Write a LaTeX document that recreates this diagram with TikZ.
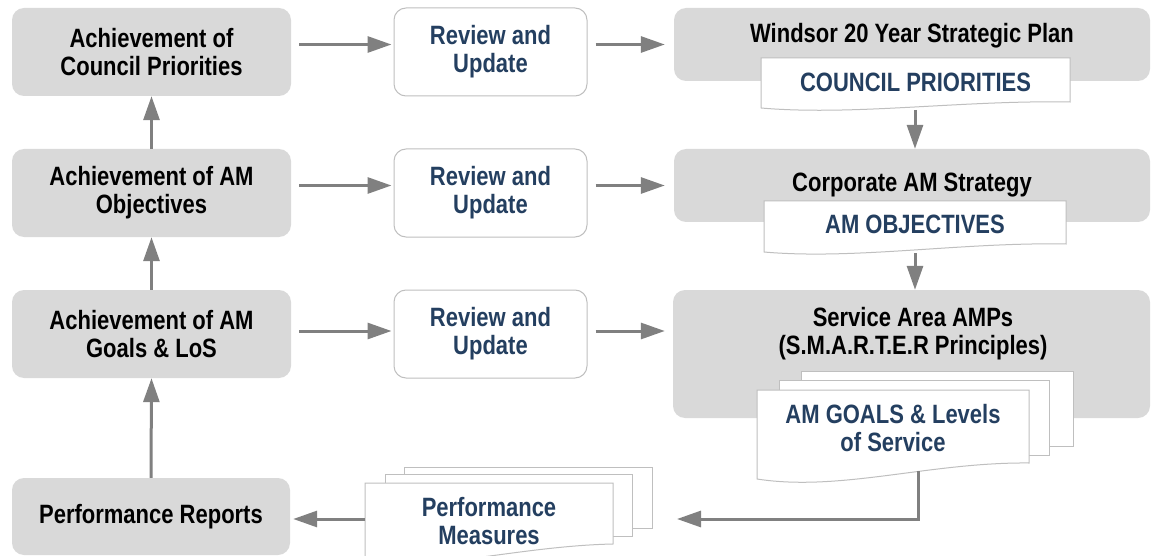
\documentclass[tikz,border=0pt]{standalone}
\usepackage{fontspec}
\setmainfont{Liberation Sans}[FakeStretch=0.83]
\usetikzlibrary{arrows.meta}
\definecolor{boxgray}{HTML}{D9D9D9}
\definecolor{edgegray}{HTML}{BFBFBF}
\definecolor{arrgray}{HTML}{808080}
\definecolor{navy}{HTML}{243F60}
\begin{document}
\begin{tikzpicture}[x=1pt,y=-1pt,
  graybox/.style={fill=boxgray, draw=none, rounded corners=12pt, inner sep=0pt},
  revbox/.style={fill=white, draw=edgegray, line width=1pt, rounded corners=12pt, inner sep=0pt,
    minimum width=193pt, minimum height=88pt, text=navy, align=center,
    font=\fontsize{26.5}{28}\selectfont\bfseries},
  blk/.style={font=\fontsize{26.5}{28}\selectfont\bfseries, align=center, text=black},
  blu/.style={font=\fontsize{26.5}{28}\selectfont\bfseries, align=center, text=navy},
  docline/.style={fill=white, draw=edgegray, line width=1pt},
  arr/.style={draw=arrgray, line width=3pt, -{Triangle[length=24pt,width=16pt]}},
]
\useasboundingbox (0,0) rectangle (1151,556);

% left column
\node[graybox, blk, minimum width=279pt, minimum height=88pt] (l1) at (151.5,52) {Achievement of\\Council Priorities};
\node[graybox, blk, minimum width=279pt, minimum height=88pt] (l2) at (151.5,193) {Achievement of AM\\Objectives};
\node[graybox, blk, minimum width=279pt, minimum height=88pt] (l3) at (151.5,334) {Achievement of AM\\Goals \& LoS};
\node[graybox, blk, minimum width=278pt, minimum height=77pt] (pr) at (151,516.5) {Performance Reports};

% review boxes
\node[revbox] (rv1) at (490.5,52) {Review and\\Update};
\node[revbox] (rv2) at (490.5,193) {Review and\\Update};
\node[revbox] (rv3) at (490.5,334) {Review and\\Update};

% right column boxes
\node[graybox, minimum width=476pt, minimum height=73pt] (w1) at (912,44.5) {};
\node[blk] (w1t) at (912,36) {Windsor 20 Year Strategic Plan};
\node[graybox, minimum width=476pt, minimum height=73pt] (c2) at (912,185.5) {};
\node[blk] (c2t) at (912,185) {Corporate AM Strategy};
\node[graybox, minimum width=477pt, minimum height=128pt] (s3) at (911.5,354) {};
\node[blk] (s3t) at (913,334) {Service Area AMPs\\(S.M.A.R.T.E.R Principles)};

% council priorities document
\draw[docline] (761,58) -- (1070,58) -- (1070,102) .. controls (962,100) and (854,116) .. (761,108) -- cycle;
\node[blu] (cpt) at (915.5,82) {COUNCIL PRIORITIES};
\coordinate (cpb) at (915,110);

% AM objectives document
\draw[docline] (764,201) -- (1066,201) -- (1066,244) .. controls (962,242) and (855,260) .. (764,252) -- cycle;
\node[blu] (aot) at (915,224) {AM OBJECTIVES};
\coordinate (aob) at (915,253);

% AM goals stack
\draw[docline] (801,371) rectangle (1073,446);
\draw[docline] (779,380) rectangle (1049,455);
\draw[docline] (757,390) -- (1029,390) -- (1029,463) .. controls (930,462) and (840,492) .. (757,479) -- cycle;
\node[blu] (gt) at (893,428) {AM GOALS \& Levels\\of Service};
\coordinate (gb) at (918,471);
\coordinate (gc) at (918,519);
\coordinate (ge) at (677,519);

% performance measures stack
\draw[docline] (404,467) rectangle (652,528);
\draw[docline] (385,474) rectangle (632,536);
\draw[docline] (365,483) -- (613,483) -- (613,544) .. controls (520,546) and (430,572) .. (365,562) -- cycle;
\node[blu] (pmt) at (489,521) {Performance\\Measures};
\coordinate (pml) at (365,519);

% connectors: left column upward
\draw[arr] (l2.north) -- (l1.south);
\draw[arr] (l3.north) -- (l2.south);
\draw[arr] (pr.north) -- (l3.south);

% row connectors
\draw[arr, shorten <=8pt, shorten >=2pt] (l1.east |- w1.west) -- (rv1.west |- w1.west);
\draw[arr, shorten <=8pt, shorten >=9pt] (rv1.east |- w1.west) -- (w1.west);
\draw[arr, shorten <=8pt, shorten >=2pt] (l2.east |- c2.west) -- (rv2.west |- c2.west);
\draw[arr, shorten <=8pt, shorten >=9pt] (rv2.east |- c2.west) -- (c2.west);
\draw[arr, shorten <=8pt, shorten >=2pt] ([yshift=3pt]l3.east) -- ([yshift=3pt]rv3.west);
\draw[arr, shorten <=8pt, shorten >=8pt] ([yshift=3pt]rv3.east) -- ([yshift=3pt]rv3.east -| s3.west);

% right column downward
\draw[arr] (cpb) -- (cpb |- c2.north);
\draw[arr] (aob) -- (aob |- s3.north);

% bottom connectors
\draw[arr] (gb) -- (gc) -- (ge);
\draw[arr, shorten >=3pt] (pml) -- (pml -| pr.east);
\end{tikzpicture}
\end{document}
